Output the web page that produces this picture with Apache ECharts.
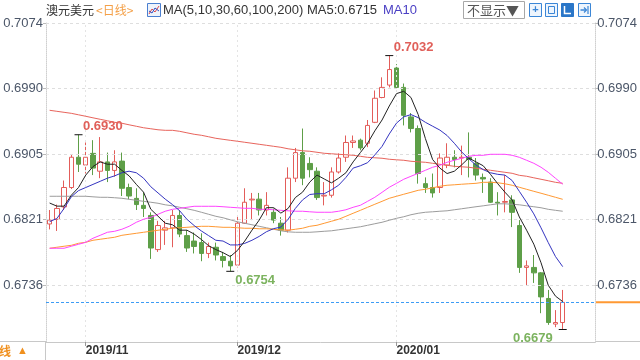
<!DOCTYPE html>
<html><head><meta charset="utf-8">
<script src="https://cdn.jsdelivr.net/npm/echarts@6/dist/echarts.min.js"></script>
<style>html,body{margin:0;padding:0;background:#fff}#c{width:640px;height:360px}</style>
</head><body><div id="c"></div>
<script>
// ---------------- DATA ----------------
const dates = [
'2019/10/25','2019/10/28','2019/10/29','2019/10/30','2019/10/31',
'2019/11/01','2019/11/04','2019/11/05','2019/11/06','2019/11/07','2019/11/08',
'2019/11/11','2019/11/12','2019/11/13','2019/11/14','2019/11/15',
'2019/11/18','2019/11/19','2019/11/20','2019/11/21','2019/11/22',
'2019/11/25','2019/11/26','2019/11/27','2019/11/28','2019/11/29',
'2019/12/02','2019/12/03','2019/12/04','2019/12/05','2019/12/06',
'2019/12/09','2019/12/10','2019/12/11','2019/12/12','2019/12/13',
'2019/12/16','2019/12/17','2019/12/18','2019/12/19','2019/12/20',
'2019/12/23','2019/12/24','2019/12/25','2019/12/26','2019/12/27',
'2019/12/30','2019/12/31',
'2020/01/01','2020/01/02','2020/01/03',
'2020/01/06','2020/01/07','2020/01/08','2020/01/09','2020/01/10',
'2020/01/13','2020/01/14','2020/01/15','2020/01/16','2020/01/17',
'2020/01/20','2020/01/21','2020/01/22','2020/01/23','2020/01/24',
'2020/01/27','2020/01/28','2020/01/29','2020/01/30','2020/01/31',
'2020/02/03','2020/02/04','2020/02/05','2020/02/06','2020/02/07'
];
const opens  = [0.6815,0.6821,0.6837,0.6862,0.6901,0.6891,0.6906,0.6883,0.6895,0.6884,0.6896,0.6862,0.6848,0.6839,0.6826,0.6782,0.6807,0.6810,0.6826,0.6800,0.6793,0.6791,0.6777,0.6785,0.6773,0.6767,0.6762,0.6816,0.6846,0.6847,0.6833,0.6830,0.6816,0.6807,0.6874,0.6907,0.6893,0.6883,0.6851,0.6852,0.6882,0.6901,0.6920,0.6923,0.6919,0.6946,0.6978,0.6994,0.7016,0.6991,0.6953,0.6938,0.6867,0.6862,0.6862,0.6891,0.6901,0.6900,0.6901,0.6893,0.6875,0.6869,0.6843,0.6843,0.6846,0.6813,0.6759,0.6759,0.6752,0.6719,0.6686,0.6688];
const closes = [0.6820,0.6835,0.6862,0.6901,0.6892,0.6901,0.6887,0.6895,0.6884,0.6895,0.6861,0.6851,0.6840,0.6835,0.6784,0.6813,0.6810,0.6826,0.6802,0.6784,0.6786,0.6777,0.6786,0.6775,0.6768,0.6761,0.6816,0.6843,0.6847,0.6833,0.6839,0.6820,0.6807,0.6874,0.6907,0.6874,0.6885,0.6849,0.6852,0.6882,0.6900,0.6920,0.6922,0.6913,0.6942,0.6977,0.6991,0.7014,0.6991,0.6955,0.6938,0.6880,0.6862,0.6855,0.6900,0.6901,0.6898,0.6901,0.6898,0.6878,0.6873,0.6843,0.6842,0.6844,0.6830,0.6759,0.6761,0.6752,0.6721,0.6688,0.6688,0.6714];
const lows   = [0.6808,0.6806,0.6833,0.6860,0.6882,0.6880,0.6878,0.6874,0.6869,0.6876,0.6851,0.6847,0.6833,0.6824,0.6770,0.6779,0.6788,0.6785,0.6798,0.6779,0.6777,0.6767,0.6771,0.6768,0.6759,0.6754,0.6759,0.6815,0.6820,0.6826,0.6826,0.6816,0.6800,0.6804,0.6869,0.6865,0.6875,0.6846,0.6839,0.6849,0.6880,0.6895,0.6913,0.6910,0.6914,0.6945,0.6977,0.6991,0.6990,0.6942,0.6933,0.6867,0.6855,0.6849,0.6855,0.6887,0.6888,0.6878,0.6875,0.6871,0.6855,0.6842,0.6826,0.6830,0.6811,0.6752,0.6736,0.6739,0.6700,0.6685,0.6682,0.6679];
const highs  = [0.6833,0.6840,0.6871,0.6904,0.6930,0.6920,0.6923,0.6927,0.6907,0.6910,0.6907,0.6867,0.6861,0.6856,0.6830,0.6819,0.6819,0.6833,0.6833,0.6807,0.6804,0.6803,0.6791,0.6791,0.6779,0.6775,0.6824,0.6861,0.6855,0.6855,0.6856,0.6835,0.6824,0.6888,0.6913,0.6938,0.6901,0.6888,0.6869,0.6888,0.6906,0.6929,0.6929,0.6925,0.6949,0.6987,0.7004,0.7032,0.7021,0.6996,0.6958,0.6942,0.6875,0.6880,0.6906,0.6919,0.6910,0.6916,0.6933,0.6900,0.6880,0.6874,0.6856,0.6878,0.6852,0.6820,0.6768,0.6775,0.6753,0.6730,0.6704,0.6730];

const ma5   = [0.6842,0.6838,0.6838,0.6852,0.6862,0.6878,0.6889,0.6895,0.6892,0.6892,0.6884,0.6877,0.6866,0.6856,0.6834,0.6825,0.6816,0.6814,0.6807,0.6807,0.6802,0.6795,0.6787,0.6782,0.6778,0.6773,0.6781,0.6793,0.6807,0.6820,0.6836,0.6836,0.6829,0.6835,0.6849,0.6856,0.6869,0.6878,0.6873,0.6868,0.6874,0.6881,0.6895,0.6907,0.6919,0.6935,0.6949,0.6967,0.6983,0.6986,0.6978,0.6956,0.6925,0.6898,0.6887,0.6880,0.6883,0.6891,0.6900,0.6895,0.6890,0.6879,0.6867,0.6856,0.6846,0.6824,0.6807,0.6789,0.6765,0.6736,0.6722,0.6715];
const ma10  = [0.6818,0.6822,0.6835,0.6850,0.6858,0.6862,0.6866,0.6870,0.6874,0.6877,0.6881,0.6883,0.6881,0.6874,0.6863,0.6855,0.6847,0.6840,0.6832,0.6821,0.6813,0.6806,0.6800,0.6794,0.6793,0.6788,0.6788,0.6790,0.6794,0.6799,0.6805,0.6809,0.6811,0.6821,0.6835,0.6846,0.6853,0.6854,0.6854,0.6859,0.6865,0.6875,0.6887,0.6890,0.6894,0.6904,0.6915,0.6931,0.6945,0.6953,0.6956,0.6952,0.6946,0.6941,0.6936,0.6929,0.6919,0.6908,0.6899,0.6891,0.6885,0.6881,0.6879,0.6878,0.6871,0.6857,0.6843,0.6828,0.6810,0.6791,0.6773,0.6760];
const ma30  = [0.67837,0.67837,0.67837,0.67863,0.67888,0.67914,0.67966,0.68004,0.68043,0.68056,0.68082,0.68120,0.68172,0.68211,0.68236,0.68275,0.68314,0.68339,0.68352,0.68365,0.68378,0.68378,0.68378,0.68378,0.68372,0.68365,0.68359,0.68352,0.68352,0.68339,0.68339,0.68333,0.68326,0.68320,0.68314,0.68314,0.68307,0.68301,0.68301,0.68301,0.68314,0.68333,0.68365,0.68391,0.68442,0.68494,0.68558,0.68623,0.68674,0.68726,0.68765,0.68803,0.68842,0.68881,0.68906,0.68945,0.68971,0.68997,0.69022,0.69035,0.69035,0.69048,0.69048,0.69048,0.69035,0.69009,0.68971,0.68932,0.68881,0.68816,0.68739,0.68662];
const ma60  = [0.67837,0.67850,0.67863,0.67875,0.67901,0.67914,0.67940,0.67953,0.67966,0.67979,0.68004,0.68017,0.68030,0.68043,0.68056,0.68069,0.68082,0.68095,0.68101,0.68107,0.68114,0.68120,0.68120,0.68114,0.68107,0.68107,0.68101,0.68095,0.68095,0.68088,0.68088,0.68082,0.68075,0.68069,0.68082,0.68095,0.68120,0.68133,0.68159,0.68185,0.68211,0.68249,0.68288,0.68326,0.68365,0.68404,0.68442,0.68481,0.68507,0.68533,0.68558,0.68584,0.68597,0.68616,0.68636,0.68649,0.68655,0.68662,0.68668,0.68674,0.68687,0.68687,0.68681,0.68668,0.68649,0.68623,0.68597,0.68571,0.68546,0.68520,0.68494,0.68468];
const ma100 = [0.68507,0.68507,0.68507,0.68507,0.68507,0.68507,0.68500,0.68494,0.68494,0.68488,0.68481,0.68468,0.68455,0.68442,0.68430,0.68417,0.68397,0.68384,0.68365,0.68346,0.68326,0.68301,0.68275,0.68249,0.68230,0.68204,0.68178,0.68159,0.68140,0.68120,0.68101,0.68082,0.68062,0.68049,0.68043,0.68043,0.68043,0.68049,0.68056,0.68062,0.68075,0.68088,0.68101,0.68114,0.68133,0.68153,0.68172,0.68198,0.68223,0.68243,0.68269,0.68288,0.68301,0.68307,0.68314,0.68320,0.68333,0.68346,0.68359,0.68372,0.68384,0.68397,0.68410,0.68410,0.68404,0.68397,0.68384,0.68372,0.68359,0.68339,0.68326,0.68314];
const ma200 = [0.69615,0.69602,0.69589,0.69576,0.69557,0.69538,0.69518,0.69499,0.69480,0.69460,0.69448,0.69428,0.69409,0.69390,0.69377,0.69364,0.69357,0.69357,0.69344,0.69325,0.69306,0.69293,0.69274,0.69254,0.69241,0.69228,0.69216,0.69203,0.69190,0.69177,0.69164,0.69151,0.69138,0.69119,0.69106,0.69093,0.69087,0.69074,0.69061,0.69055,0.69048,0.69042,0.69035,0.69022,0.69009,0.69003,0.68997,0.68984,0.68977,0.68971,0.68958,0.68951,0.68945,0.68932,0.68919,0.68906,0.68893,0.68887,0.68881,0.68868,0.68855,0.68842,0.68829,0.68816,0.68803,0.68777,0.68765,0.68745,0.68726,0.68707,0.68687,0.68674];

const yTickValues = [0.6736, 0.68205, 0.6905, 0.69895, 0.7074];
const yTickLabels = ['0.6736','0.6821','0.6905','0.6990','0.7074'];
const monthTicks  = ['2019/11/01','2019/12/02','2020/01/01'];
const monthLabels = ['2019/11','2019/12','2020/01'];
const lastPrice = 0.6714;
const highMarks = [{date:'2019/10/31', value:0.6930}, {date:'2019/12/31', value:0.7032}];
const lowMarks  = [{date:'2019/11/29', value:0.6754}, {date:'2020/02/03', value:0.6679}];
const headerTitle = '澳元美元';
const headerPeriod = '<日线>';
const maTitle = 'MA(5,10,30,60,100,200)';
const ma5Text = 'MA5:0.6715';

// ---------------- CHART ----------------
const Y_MIN = 0.66629, Y_MAX = 0.7074;
const NUM = "'Liberation Sans', Arial, 'Noto Sans CJK SC', sans-serif";
const CJK = "'Noto Sans CJK SC', 'Liberation Sans', sans-serif";
const RED = '#e35d5a', GREEN = '#5e9f48';

function tickLabel(v){
  let k = 0, d = 1;
  yTickValues.forEach((t,i)=>{ const dd=Math.abs(t-v); if(dd<d){d=dd;k=i;} });
  return yTickLabels[k];
}
function maSeries(name, data, color){
  return {name, type:'line', data, xAxisIndex:0, yAxisIndex:0, showSymbol:false, symbol:'none',
    lineStyle:{width:1, color}, itemStyle:{color}, z:5, silent:true, animation:false};
}
const idx = d => dates.indexOf(d);

const chart = echarts.init(document.getElementById('c'));
const yAxisCommon = {
  type:'value', gridIndex:0, min:Y_MIN, max:Y_MAX,
  splitLine:{show:false},
  axisLine:{show:true, lineStyle:{color:'#cfcfcf', type:'dotted'}},
  axisTick:{show:true, customValues:yTickValues, length:3, lineStyle:{color:'#bbb'}},
  axisLabel:{customValues:yTickValues, formatter:tickLabel, fontSize:13, color:'#4b5668', fontFamily:NUM, showMinLabel:true, showMaxLabel:true}
};
chart.setOption({
  animation:false,
  backgroundColor:'#ffffff',
  grid:[
    {left:46, right:44, top:23, bottom:18, containLabel:false},
    {left:596, right:0, top:23, bottom:18}
  ],
  xAxis:[
    {type:'category', gridIndex:0, data:dates, boundaryGap:true,
     axisLine:{show:true, lineStyle:{color:'#c8c8c8'}},
     axisTick:{show:true, alignWithLabel:true, interval:(i,v)=>monthTicks.includes(v), length:4, lineStyle:{color:'#999'}},
     axisLabel:{interval:(i,v)=>monthTicks.includes(v), formatter:v=>monthLabels[monthTicks.indexOf(v)],
       align:'left', margin:3, fontSize:12, fontWeight:'bold', color:'#333', fontFamily:NUM},
     splitLine:{show:false}},
    {type:'value', gridIndex:1, min:0, max:1, show:false}
  ],
  yAxis:[
    Object.assign({}, yAxisCommon, {position:'left', axisLabel:Object.assign({}, yAxisCommon.axisLabel, {margin:3})}),
    Object.assign({}, yAxisCommon, {position:'right', axisLabel:Object.assign({}, yAxisCommon.axisLabel, {margin:2})}),
    {type:'value', gridIndex:1, min:Y_MIN, max:Y_MAX, show:false}
  ],
  series:[
    // invisible host series for reference/grid lines (drawn beneath the candles)
    {type:'line', xAxisIndex:0, yAxisIndex:0, data:closes, silent:true, z:1, showSymbol:false, symbol:'none',
     lineStyle:{opacity:0}, itemStyle:{opacity:0},
     markLine:{silent:true, symbol:['none','none'], label:{show:false}, animation:false, precision:5,
       data:[
         ...yTickValues.map(v=>({yAxis:v, lineStyle:{color:'#dedede', type:[3,3], width:1}})),
         ...monthTicks.map(d=>({xAxis:d, lineStyle:{color:'#e4e4e4', type:[2,3], width:1}})),
         {yAxis:lastPrice, lineStyle:{color:'#3d9cf5', type:[3,2], width:1}}
       ]}},
    {type:'candlestick', xAxisIndex:0, yAxisIndex:0, z:3, barWidth:5,
     data: opens.map((o,i)=>[o, closes[i], lows[i], highs[i]]),
     itemStyle:{color:'#ffffff', color0:GREEN, borderColor:RED, borderColor0:GREEN, borderWidth:1},
     markPoint:{silent:true, animation:false, symbol:'rect', symbolSize:[8,1], itemStyle:{color:'#111'},
       data:[
         ...highMarks.map(m=>({coord:[idx(m.date), m.value], value:m.value,
            label:{show:true, formatter:m.value.toFixed(4), position:[8.5,-7.5], align:'left', verticalAlign:'middle',
              color:'#e0605a', fontSize:13, fontWeight:'bold', fontFamily:NUM}})),
         ...lowMarks.map((m,k)=>({coord:[idx(m.date), m.value], value:m.value,
            label:{show:true, formatter:m.value.toFixed(4), position: k===0?[9,9.5]:[-6,9], align: k===0?'left':'right', verticalAlign:'middle',
              color:'#7cb35f', fontSize:13, fontWeight:'bold', fontFamily:NUM}}))
       ]}},
    maSeries('MA200', ma200, '#e8645c'),
    maSeries('MA100', ma100, '#9c9c9c'),
    maSeries('MA60',  ma60,  '#ff9933'),
    maSeries('MA30',  ma30,  '#ff44ff'),
    maSeries('MA10',  ma10,  '#3434c0'),
    maSeries('MA5',   ma5,   '#222222'),
    {type:'line', xAxisIndex:1, yAxisIndex:2, data:[[0,lastPrice],[1,lastPrice]], showSymbol:false, symbol:'none',
     lineStyle:{color:'#ff9933', width:2}, silent:true}
  ],
  graphic:[
    {type:'text', style:{x:46, y:10, text:headerTitle, fill:'#333', font:'12px '+CJK, verticalAlign:'middle'}},
    {type:'text', style:{x:96, y:10, text:headerPeriod, fill:'#f4a048', font:'12px '+CJK, verticalAlign:'middle'}},
    {type:'rect', shape:{x:147.5, y:3.5, width:13, height:13}, style:{fill:'#eef3fb', stroke:'#4a7fd0', lineWidth:1}},
    {type:'polyline', shape:{points:[[149,14],[152,9],[155,12],[159,6]]}, style:{stroke:'#e04848', lineWidth:1, fill:null}},
    {type:'polyline', shape:{points:[[149,11],[152,13],[155,8],[159,11]]}, style:{stroke:'#3050c0', lineWidth:1, fill:null}},
    {type:'text', style:{x:163, y:10, text:maTitle, fill:'#333', font:'13px '+NUM, verticalAlign:'middle'}},
    {type:'text', style:{x:307, y:10, text:ma5Text, fill:'#333', font:'13px '+NUM, verticalAlign:'middle'}},
    {type:'text', style:{x:383, y:10, text:'MA10', fill:'#4a3fc4', font:'13px '+NUM, verticalAlign:'middle'}},
    {type:'rect', shape:{x:463.5, y:1.5, width:61, height:17}, style:{fill:'#fff', stroke:'#a8a8a8', lineWidth:1}},
    {type:'text', style:{x:467, y:10.5, text:'不显示▼', fill:'#555', font:'13px '+CJK, verticalAlign:'middle'}},
    {type:'rect', shape:{x:529.5, y:3.5, width:12, height:13}, style:{fill:'#eef5fd', stroke:'#3b86d6', lineWidth:1}},
    {type:'text', style:{x:535.5, y:10, text:'+', fill:'#3b86d6', font:'bold 11px '+NUM, align:'center', verticalAlign:'middle'}},
    {type:'rect', shape:{x:545.5, y:3.5, width:12, height:13}, style:{fill:'#eef5fd', stroke:'#3b86d6', lineWidth:1}},
    {type:'rect', shape:{x:548.5, y:6.5, width:6, height:7}, style:{fill:null, stroke:'#3b86d6', lineWidth:1}},
    {type:'rect', shape:{x:561.5, y:3.5, width:12, height:13}, style:{fill:'#2a76c8', stroke:'#2a76c8', lineWidth:1}},
    {type:'polyline', shape:{points:[[564.5,6],[564.5,13.5],[571,13.5]]}, style:{stroke:'#fff', lineWidth:1.5, fill:null}},
    {type:'rect', shape:{x:578.5, y:3.5, width:12, height:13}, style:{fill:'#eef5fd', stroke:'#3b86d6', lineWidth:1}},
    {type:'polyline', shape:{points:[[580.5,10],[586,10]]}, style:{stroke:'#3b86d6', lineWidth:1.5, fill:null}},
    {type:'polyline', shape:{points:[[584,7.5],[586.5,10],[584,12.5]]}, style:{stroke:'#3b86d6', lineWidth:1.2, fill:null}},
    {type:'polyline', shape:{points:[[588,6],[588,14]]}, style:{stroke:'#3b86d6', lineWidth:1.2, fill:null}},
    {type:'line', shape:{x1:0, y1:341.5, x2:46, y2:341.5}, style:{stroke:'#c8c8c8', lineWidth:1}},
    {type:'line', shape:{x1:596, y1:341.5, x2:640, y2:341.5}, style:{stroke:'#c8c8c8', lineWidth:1}},
    {type:'line', shape:{x1:45.5, y1:341.5, x2:45.5, y2:360}, style:{stroke:'#c8c8c8', lineWidth:1}},
    {type:'text', style:{x:11, y:351, text:'日线', fill:'#f0901e', font:'bold 12px '+CJK, align:'right', verticalAlign:'middle'}},
    {type:'text', style:{x:17, y:351, text:'▲', fill:'#f0901e', font:'11px '+NUM, verticalAlign:'middle'}}
  ]
});
</script>
</body></html>
